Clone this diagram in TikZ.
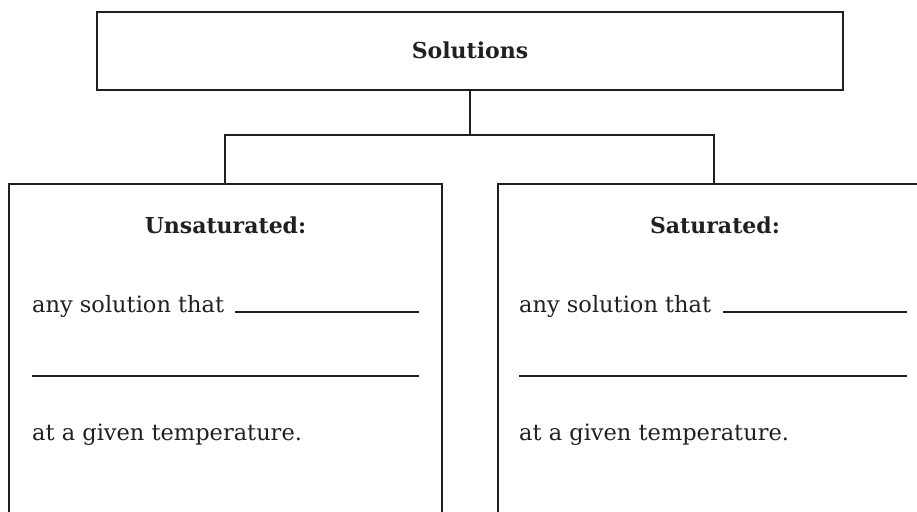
\documentclass[tikz,border=0pt]{standalone}
\usepackage{fontspec}
\setmainfont{DejaVu Serif}
\definecolor{ink}{HTML}{231F20}
\begin{document}
\begin{tikzpicture}[x=1pt,y=-1pt,
  frame/.style={draw=ink,line width=2.6pt},
  link/.style={draw=ink,line width=2.6pt},
  blank/.style={draw=ink,line width=1.3pt},
  headtext/.style={font=\fontsize{22}{26}\selectfont\bfseries,text=ink,anchor=base},
  bodytext/.style={font=\fontsize{22.5}{26}\selectfont,text=ink,anchor=base west,inner sep=0pt},
  panel/.style={frame,rectangle,inner sep=0pt,outer sep=0pt,anchor=north west}]
\useasboundingbox (0,0) rectangle (917,511);
\clip (0,0) rectangle (917,511);

% top box
\node[panel,minimum width=746pt,minimum height=78pt] (top) at (97,12) {};
\node[headtext] (toptext) at (470,59) {Solutions};

% two category boxes (running off the lower and right edges)
\node[panel,minimum width=433pt,minimum height=400pt] (left) at (9,184) {};
\node[panel,minimum width=434pt,minimum height=400pt] (right) at (498,184) {};

% connectors
\coordinate (fork) at (top.south |- 0,135);
\draw[link] (top.south) -- (fork);
\draw[link] (225,0 |- left.north) |- (fork) -| (714,0 |- right.north);

% left box content
\node[headtext] (lhead) at (225.5,233) {Unsaturated:};
\node[bodytext] (l1) at (32,312) {any solution that};
\coordinate (l1a) at (235,312);
\coordinate (l1b) at (419,312);
\draw[blank] (l1a) -- (l1b);
\coordinate (l2a) at (32,376);
\coordinate (l2b) at (419,376);
\draw[blank] (l2a) -- (l2b);
\node[bodytext] (l3) at (32,440) {at a given temperature.};

% right box content
\node[headtext] (rhead) at (715,233) {Saturated:};
\node[bodytext] (r1) at (519,312) {any solution that};
\coordinate (r1a) at (723,312);
\coordinate (r1b) at (907,312);
\draw[blank] (r1a) -- (r1b);
\coordinate (r2a) at (519,376);
\coordinate (r2b) at (907,376);
\draw[blank] (r2a) -- (r2b);
\node[bodytext] (r3) at (519,440) {at a given temperature.};
\end{tikzpicture}
\end{document}
